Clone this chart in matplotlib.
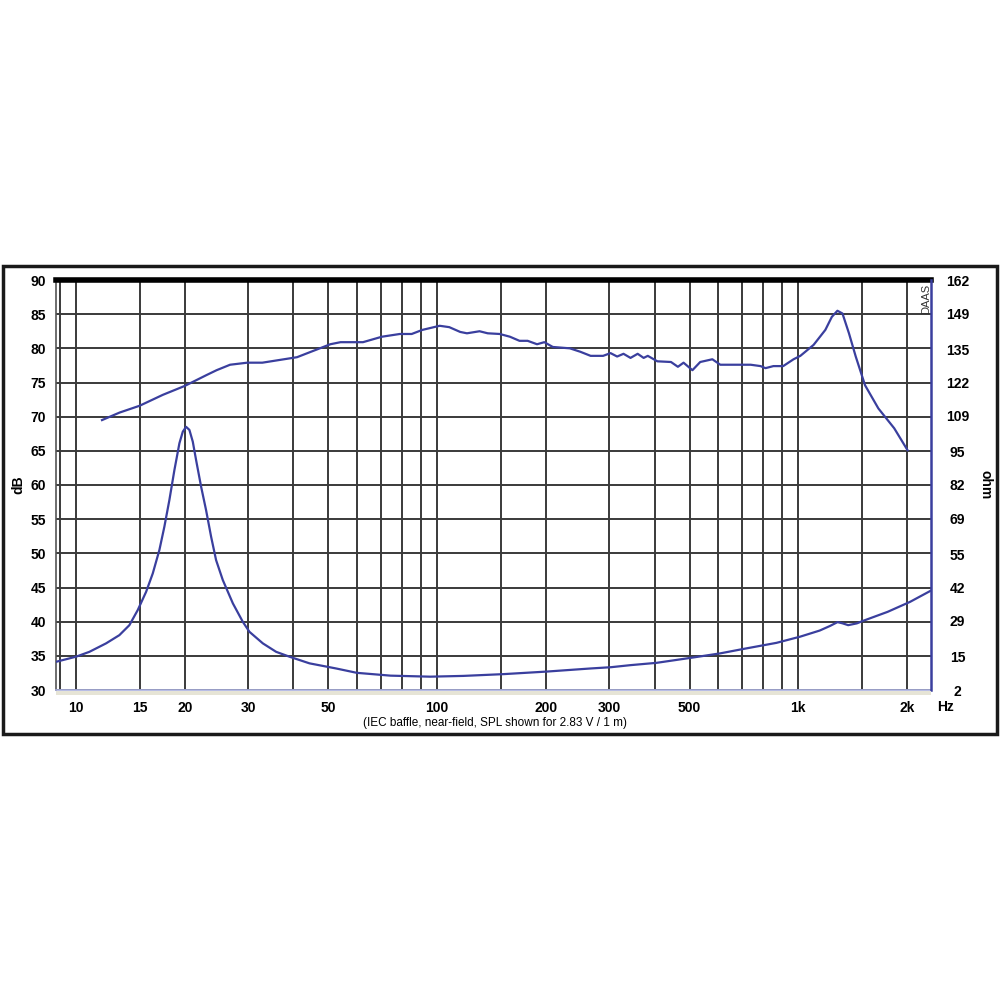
import matplotlib.pyplot as plt
from matplotlib.patches import Rectangle

plt.rcParams['font.family'] = ['Liberation Sans', 'DejaVu Sans']

# SPL curve (dB, left axis)
spl_freq = [11.8, 13.2, 15, 17.4, 20, 23.0, 24.5, 26.7, 29.8, 32.8, 40.9, 50.6, 54, 62.3,
            70.3, 78.8, 85, 91, 101.6, 108, 115.8, 120.9, 131, 138, 149, 159, 169, 178,
            189, 198, 209, 233, 249, 266, 288, 302, 315, 328, 343, 359, 373, 383, 407,
            444, 464, 481, 509, 535, 578, 608, 662, 738, 786, 811, 853, 908, 970, 1013,
            1102, 1188, 1238, 1283, 1325, 1381, 1442, 1530, 1666, 1843, 2006]
spl_db = [69.5, 70.6, 71.6, 73.2, 74.5, 76.1, 76.8, 77.6, 77.9, 77.9, 78.7, 80.6, 80.9, 80.9,
          81.7, 82.1, 82.1, 82.7, 83.3, 83.1, 82.4, 82.2, 82.5, 82.2, 82.1, 81.7, 81.1, 81.1,
          80.6, 80.9, 80.2, 80.0, 79.5, 78.9, 78.9, 79.3, 78.8, 79.2, 78.6, 79.2, 78.6, 78.9,
          78.1, 78.0, 77.3, 77.9, 76.8, 78.0, 78.4, 77.6, 77.6, 77.6, 77.4, 77.1, 77.4, 77.4,
          78.4, 78.9, 80.5, 82.7, 84.6, 85.5, 85.1, 82.2, 78.8, 74.6, 71.2, 68.3, 65.1]

# impedance curve (ohm, right axis)
imp_freq = [8.8, 10.0, 10.89, 12.11, 13.18, 14.05, 14.82, 15.63, 16.31, 17.01, 17.56, 18.13,
            18.72, 19.33, 19.75, 20.17, 20.6, 21.05, 21.5, 22.2, 22.91, 23.66, 24.42, 25.49,
            27.18, 28.96, 30.21, 32.9, 35.81, 38.98, 44.3, 52.5, 59.9, 74.3, 95.6, 118.1,
            152.9, 201.5, 265.8, 303, 343, 405, 512, 608, 703, 870, 1011, 1146, 1224, 1284,
            1327, 1374, 1452, 1512, 1767, 2039, 2330]
imp_ohm = [13.0, 15.0, 16.9, 20.2, 23.4, 27.3, 33.2, 40.3, 47.5, 56.6, 65.7, 76.1,
           87.8, 98.3, 102.8, 104.7, 103.5, 98.9, 91.7, 81.3, 72.2, 61.8, 52.7, 44.9,
           35.8, 28.6, 24.7, 20.2, 16.9, 15.0, 12.4, 10.4, 8.7, 7.6, 7.2, 7.5,
           8.2, 9.2, 10.4, 10.9, 11.7, 12.6, 14.7, 16.3, 18.0, 20.4, 22.8, 25.2, 27.0, 28.5,
           28.0, 27.3, 28.0, 29.0, 32.5, 36.4, 40.8]

grid_freqs = [9, 10, 15, 20, 30, 40, 50, 60, 70, 80, 90, 100, 150, 200, 300, 400, 500,
              600, 700, 800, 900, 1000, 1500, 2000]
freq_labels = {10: '10', 15: '15', 20: '20', 30: '30', 50: '50', 100: '100', 200: '200',
               300: '300', 500: '500', 1000: '1k', 2000: '2k'}
db_ticks = [30, 35, 40, 45, 50, 55, 60, 65, 70, 75, 80, 85, 90]
ohm_ticks = [2, 15, 29, 42, 55, 69, 82, 95, 109, 122, 135, 149, 162]

curve_col = '#3a3f9e'
grid_col = '#3a3a3a'

fig = plt.figure(figsize=(10, 10), dpi=100)
ax = fig.add_axes([0.056, 0.31, 0.875, 0.41])
ax.set_xscale('log')
ax.set_xlim(8.8, 2330)
ax.set_ylim(30, 90)

ax.set_xticks(grid_freqs)
ax.set_xticklabels([freq_labels.get(f, '') for f in grid_freqs])
ax.xaxis.set_minor_locator(plt.NullLocator())
ax.set_yticks(db_ticks)
ax.grid(True, color=grid_col, lw=1.4)
ax.tick_params(length=0, labelsize=10)
ax.tick_params(axis='x', pad=8)
ax.tick_params(axis='y', pad=7)
for lab in ax.get_xticklabels() + ax.get_yticklabels():
    lab.set_fontweight('bold')

ax.spines['top'].set_linewidth(4)
ax.spines['top'].set_color('black')
ax.spines['left'].set_color('#555555')
ax.spines['left'].set_linewidth(1.2)
ax.spines['bottom'].set_color('#aab0e0')
ax.spines['bottom'].set_linewidth(1.2)
ax.spines['right'].set_visible(False)

ax.plot(spl_freq, spl_db, color=curve_col, lw=1.6, zorder=5)

ax2 = ax.twinx()
ax2.set_ylim(2, 162)
ax2.set_yticks(ohm_ticks)
ax2.tick_params(length=0, labelsize=10, pad=19)
for lab in ax2.get_yticklabels():
    lab.set_fontweight('bold')
    lab.set_horizontalalignment('center')
for s in ['top', 'left', 'bottom']:
    ax2.spines[s].set_visible(False)
ax2.spines['right'].set_color(curve_col)
ax2.spines['right'].set_linewidth(1.8)
ax2.plot(imp_freq, imp_ohm, color=curve_col, lw=1.6, zorder=5)

# beige strip under the plot
fig.patches.append(Rectangle((0.056, 0.305), 0.875, 0.004, transform=fig.transFigure,
                             facecolor='#e6e4d6', edgecolor='none'))
# outer frame
fig.patches.append(Rectangle((0.003, 0.266), 0.994, 0.468, transform=fig.transFigure,
                             facecolor='none', edgecolor='#1a1a1a', lw=2.5))

fig.text(0.018, 0.515, 'dB', rotation=90, ha='center', va='center', fontsize=10, fontweight='bold')
fig.text(0.985, 0.515, 'ohm', rotation=270, ha='center', va='center', fontsize=10, fontweight='bold')
fig.text(0.946, 0.293, 'Hz', ha='center', va='center', fontsize=10, fontweight='bold')
fig.text(0.495, 0.277, '(IEC baffle, near-field, SPL shown for 2.83 V / 1 m)',
         ha='center', va='center', fontsize=8.5)
fig.text(0.926, 0.701, 'DAAS', rotation=90, ha='center', va='center', fontsize=8,
         color='#333333')

fig.savefig('out.png', dpi=100, facecolor='white')
